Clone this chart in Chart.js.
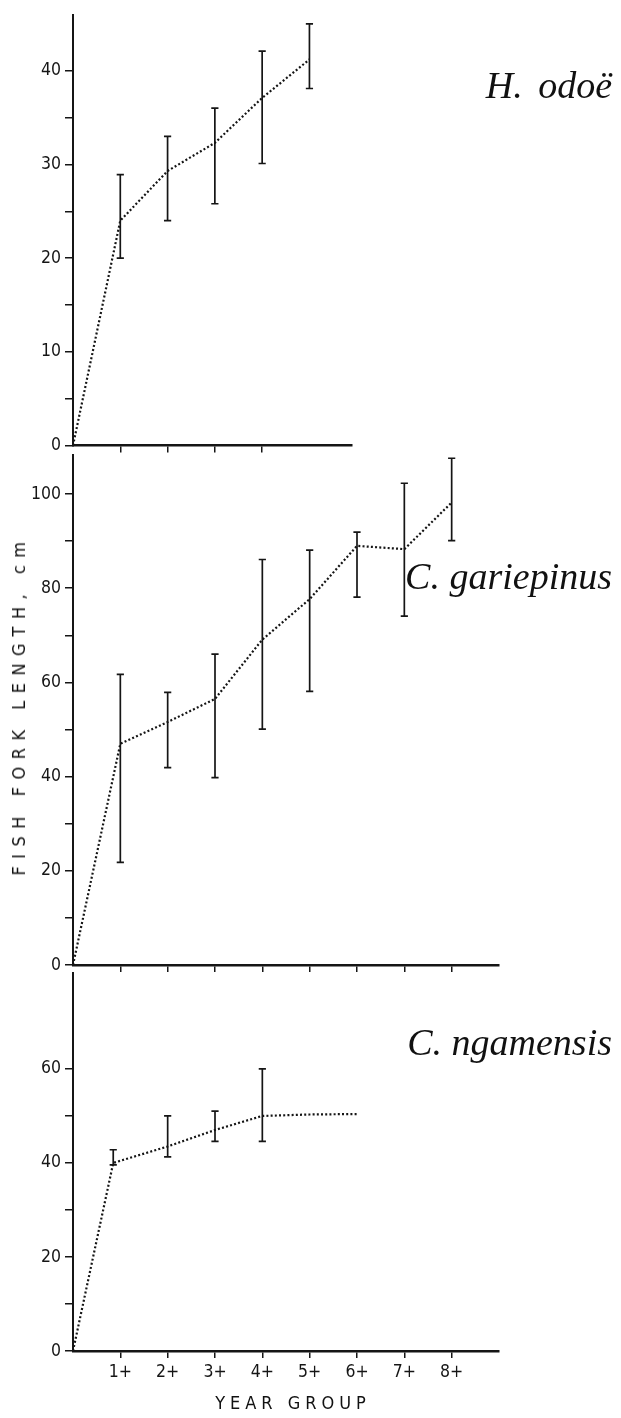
<!DOCTYPE html>
<html><head><meta charset="utf-8">
<script src="https://cdn.jsdelivr.net/npm/chart.js@4.4.1/dist/chart.umd.min.js"></script>
<style>
html,body{margin:0;padding:0;background:#fff;}
#wrap{position:relative;width:621px;height:1418px;overflow:hidden;background:#fff;}
canvas{position:absolute;left:0;}
.sp{position:absolute;right:9px;font-family:'Liberation Serif','Times New Roman',serif;font-style:italic;font-size:38px;line-height:38px;color:#111;white-space:nowrap;}
.ax{position:absolute;font-family:'DejaVu Sans Condensed','Liberation Sans Narrow',sans-serif;font-size:18px;line-height:18px;color:#111;white-space:nowrap;}
</style></head><body>
<div id="wrap">
<canvas id="c1" width="621" height="460" style="top:0px"></canvas>
<canvas id="c2" width="621" height="540" style="top:440px"></canvas>
<canvas id="c3" width="621" height="460" style="top:958px"></canvas>
<div class="sp" id="s1" style="top:66px;word-spacing:6px"></div>
<div class="sp" id="s2" style="top:557px"></div>
<div class="sp" id="s3" style="top:1023px"></div>
<div class="ax" id="yt" style="left:19px;top:705px;transform:translate(-50%,-50%) rotate(-90deg);letter-spacing:7.5px;"></div>
<div class="ax" id="xt" style="left:293px;top:1403px;transform:translate(-50%,-50%);letter-spacing:5px;"></div>
</div>
<script>
// ---- data ----
const hoAge  = [1, 2, 3, 4, 5];
const hoMean = [24.0, 29.3, 32.3, 37.1, 41.2];
const hoLow  = [20.0, 24.0, 25.8, 30.1, 38.1];
const hoHigh = [28.9, 33.0, 36.0, 42.1, 45.0];

const cgAge  = [1, 2, 3, 4, 5, 6, 7, 8];
const cgMean = [47.0, 51.6, 56.5, 69.1, 77.7, 89.0, 88.3, 98.2];
const cgLow  = [21.8, 41.9, 39.8, 50.1, 58.1, 78.1, 74.1, 90.1];
const cgHigh = [61.7, 57.9, 66.0, 86.1, 88.1, 91.9, 102.3, 107.6];

const cnAge    = [0.85, 2, 3, 4, 5, 6];
const cnMean   = [40.0, 43.5, 47.0, 50.0, 50.3, 50.4];
const cnErrAge = [0.85, 2, 3, 4];
const cnLow    = [39.6, 41.3, 44.6, 44.6];
const cnHigh   = [42.8, 50.0, 51.0, 60.0];

const xTickLabels  = ['1+', '2+', '3+', '4+', '5+', '6+', '7+', '8+'];
const speciesNames = ['H. odoë', 'C. gariepinus', 'C. ngamensis'];
const yTitle = 'FISH FORK LENGTH, cm';
const xTitle = 'YEAR GROUP';

// ---- helpers ----
function meanData(age, mean) {
  return [{x: 0, y: 0}].concat(age.map((a, i) => ({x: a, y: mean[i]})));
}
function errData(age, lo, hi) {
  const d = [];
  age.forEach((a, i) => { d.push({x: a, y: lo[i]}, {x: a, y: hi[i]}, {x: a, y: null}); });
  return d;
}
const INK = '#151515';
const tickFont = {family: "'DejaVu Sans Condensed','Liberation Sans Narrow',sans-serif", size: 17.5};

function makeChart(id, o) {
  return new Chart(document.getElementById(id), {
    type: 'line',
    data: {datasets: [
      {data: errData(o.errAge, o.lo, o.hi), borderColor: INK, borderWidth: 1.7,
       pointStyle: 'line', pointRadius: 3.6, pointBorderWidth: 1.7, pointBorderColor: INK,
       spanGaps: false, fill: false, tension: 0},
      {data: meanData(o.age, o.mean), borderColor: INK, borderWidth: 2.2, borderDash: [2, 2.2],
       pointRadius: 0, tension: 0, fill: false}
    ]},
    options: {
      responsive: false, animation: false, events: [],
      layout: {padding: {top: o.pt, right: o.pr, left: 0, bottom: 0}},
      plugins: {legend: {display: false}, tooltip: {enabled: false}},
      scales: {
        x: {type: 'linear', min: 0, max: o.xmax,
          afterFit: s => { s.height = o.xh; },
          afterBuildTicks: s => { s.ticks = s.ticks.filter(t => t.value >= 1 && t.value <= o.xlast); },
          ticks: {stepSize: 1, autoSkip: false, maxRotation: 0, color: INK, font: tickFont, padding: 4,
            callback: v => o.xlabels ? (xTickLabels[v - 1] || '') : ''},
          grid: {drawOnChartArea: false, drawTicks: true, tickLength: 7, color: INK, lineWidth: 1.5},
          border: {display: true, color: INK, width: 2.5}},
        y: {type: 'linear', min: 0, max: o.ymax,
          afterFit: s => { s.width = 73; },
          afterBuildTicks: s => { s.ticks = s.ticks.filter(t => t.value <= o.ylast); },
          ticks: {stepSize: o.ystep, includeBounds: false, color: INK, font: tickFont, padding: 4,
            callback: v => (v % o.ylab === 0 ? String(v) : '')},
          grid: {drawOnChartArea: false, drawTicks: true, tickLength: 8, color: INK, lineWidth: 1.5},
          border: {display: true, color: INK, width: 2}}
      }
    }
  });
}

makeChart('c1', {age: hoAge, mean: hoMean, errAge: hoAge, lo: hoLow, hi: hoHigh,
  pt: 5, pr: 269, xh: 13, xmax: 5.9, xlast: 5, xlabels: false, ymax: 46, ylast: 40, ystep: 5, ylab: 10});
makeChart('c2', {age: cgAge, mean: cgMean, errAge: cgAge, lo: cgLow, hi: cgHigh,
  pt: 7, pr: 122, xh: 15, xmax: 9, xlast: 8, xlabels: false, ymax: 108.4, ylast: 100, ystep: 10, ylab: 20});
makeChart('c3', {age: cnAge, mean: cnMean, errAge: cnErrAge, lo: cnLow, hi: cnHigh,
  pt: 7, pr: 122, xh: 67, xmax: 9, xlast: 8, xlabels: true, ymax: 80.5, ylast: 60, ystep: 10, ylab: 20});

document.getElementById('s1').textContent = speciesNames[0];
document.getElementById('s2').textContent = speciesNames[1];
document.getElementById('s3').textContent = speciesNames[2];
document.getElementById('yt').textContent = yTitle;
document.getElementById('xt').textContent = xTitle;
</script>
</body></html>
